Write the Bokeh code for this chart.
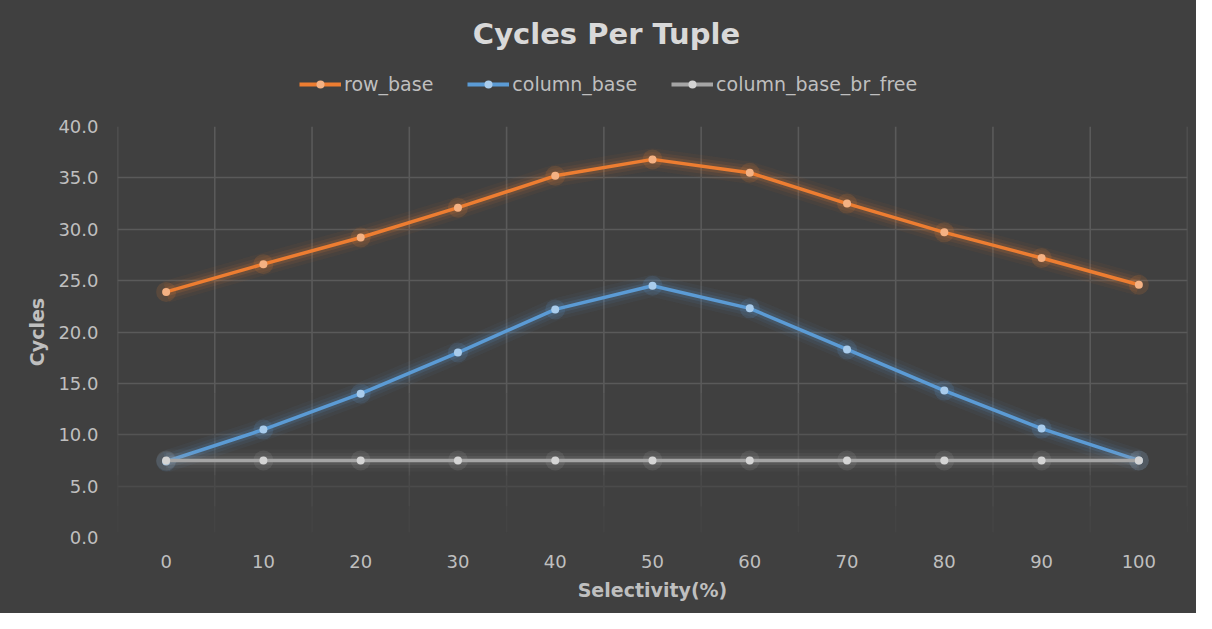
from bokeh.plotting import figure
from bokeh.layouts import column
from bokeh.models import (Legend, LegendItem, FixedTicker, PrintfTickFormatter, Grid, Range1d, Label)
from bokeh.embed import file_html
from bokeh.resources import INLINE

# ---- data ----
selectivity = [0, 10, 20, 30, 40, 50, 60, 70, 80, 90, 100]
row_base = [23.9, 26.6, 29.2, 32.1, 35.2, 36.8, 35.5, 32.5, 29.7, 27.2, 24.6]
column_base = [7.4, 10.5, 14.0, 18.0, 22.2, 24.5, 22.3, 18.3, 14.3, 10.6, 7.5]
column_base_br_free = [7.5, 7.5, 7.5, 7.5, 7.5, 7.5, 7.5, 7.5, 7.5, 7.5, 7.5]
series_names = ["row_base", "column_base", "column_base_br_free"]
y_ticks = [0, 5, 10, 15, 20, 25, 30, 35, 40]
title_text = "Cycles Per Tuple"

BG = "#404040"
TXT = "#BFBFBF"
FONT = "DejaVu Sans"
W = 1196
HDR_H = 116

series = [
    (row_base, "#ED7D31", "#F4B183"),
    (column_base, "#5B9BD5", "#A9CCEC"),
    (column_base_br_free, "#A5A5A5", "#D4D4D4"),
]

# ---------- header (title + legend) ----------
hdr = figure(width=W, height=HDR_H, output_backend="svg", toolbar_location=None,
             x_range=Range1d(-5, -4), y_range=Range1d(-2, -1),
             min_border_left=117, min_border_right=9, min_border_top=0, min_border_bottom=0)
hdr.background_fill_color = BG
hdr.border_fill_color = BG
hdr.outline_line_color = None
hdr.styles = {"background-color": BG}
hdr.xaxis.visible = False
hdr.yaxis.visible = False
hdr.xgrid.visible = False
hdr.ygrid.visible = False
hdr.add_layout(Label(x=606 - 117, y=HDR_H - 33, x_units="screen", y_units="screen", text=title_text,
                     text_align="center", text_baseline="middle", text_font=FONT,
                     text_font_size="29px", text_font_style="bold", text_color="#D9D9D9"))
items = []
for (vals, col, mcol), name in zip(series, series_names):
    # legend swatches (series drawn outside the header's visible range)
    ln = hdr.line(selectivity, vals, line_color=col, line_width=4)
    sc = hdr.scatter(selectivity, vals, size=9, fill_color=mcol, line_color=None)
    items.append(LegendItem(label=name, renderers=[ln, sc]))
legend = Legend(items=items, orientation="horizontal", location=(299 - 117, HDR_H - 85 - 10))
legend.background_fill_alpha = 0
legend.border_line_color = None
legend.label_text_color = TXT
legend.label_text_font = FONT
legend.label_text_font_size = "19px"
legend.glyph_width = 42
legend.glyph_height = 20
legend.label_height = 20
legend.label_standoff = 3
legend.spacing = 34
legend.padding = 0
hdr.add_layout(legend, "center")

# ---------- main chart ----------
p = figure(width=W, height=613 - HDR_H, output_backend="svg", toolbar_location=None,
           x_range=Range1d(-5, 105), y_range=Range1d(0, 40),
           min_border_left=117, min_border_right=9, min_border_top=10, min_border_bottom=76)
p.background_fill_color = BG
p.border_fill_color = BG
p.outline_line_color = None
p.styles = {"background-color": BG}

p.xaxis.ticker = FixedTicker(ticks=selectivity)
p.yaxis.ticker = FixedTicker(ticks=y_ticks)
p.yaxis.formatter = PrintfTickFormatter(format="%.1f")
for ax in (p.xaxis[0], p.yaxis[0]):
    ax.axis_line_color = None
    ax.major_tick_line_color = None
    ax.minor_tick_line_color = None
    ax.major_label_text_color = TXT
    ax.major_label_text_font = FONT
    ax.major_label_text_font_size = "18px"
    ax.axis_label_text_color = TXT
    ax.axis_label_text_font = FONT
    ax.axis_label_text_font_size = "19px"
    ax.axis_label_text_font_style = "bold"
p.xaxis.axis_label = "Selectivity(%)"
p.yaxis.axis_label = "Cycles"
p.yaxis.major_label_standoff = 13
p.xaxis.major_label_standoff = 11
p.xaxis.axis_label_standoff = 8
p.yaxis.axis_label_standoff = 7

# grid (fading towards the bottom)
p.xgrid.visible = False
p.ygrid.visible = False
p.add_layout(Grid(dimension=1, ticker=FixedTicker(ticks=[15, 20, 25, 30, 35, 40]),
                  grid_line_color="#5A5A5A", grid_line_width=1.6))
p.add_layout(Grid(dimension=1, ticker=FixedTicker(ticks=[10]), grid_line_color="#545454", grid_line_width=1.6))
p.add_layout(Grid(dimension=1, ticker=FixedTicker(ticks=[5]), grid_line_color="#4B4B4B", grid_line_width=1.6))
vx = [-5 + 10 * i for i in range(12)]
bands = [(14, 40, "#5A5A5A"), (10, 14, "#555555"), (6, 10, "#4F4F4F"), (3, 6, "#494949"), (0.5, 3, "#444444")]
for y0, y1, c in bands:
    p.segment(x0=vx, x1=vx, y0=[y0] * len(vx), y1=[y1] * len(vx), line_color=c, line_width=1.6)

for (vals, col, mcol), name in zip(series, series_names):
    # soft glow
    p.line(selectivity, vals, line_color=col, line_width=22, line_alpha=0.05)
    p.line(selectivity, vals, line_color=col, line_width=15, line_alpha=0.08)
    p.line(selectivity, vals, line_color=col, line_width=9, line_alpha=0.14)
    p.scatter(selectivity, vals, size=20, fill_color=col, fill_alpha=0.15, line_color=None)
    p.line(selectivity, vals, line_color=col, line_width=3.5)
    p.scatter(selectivity, vals, size=8, fill_color=mcol, line_color=None)

lay = column(hdr, p, spacing=0)
lay.styles = {"background-color": BG}
open("out.html", "w").write(file_html(lay, INLINE))
